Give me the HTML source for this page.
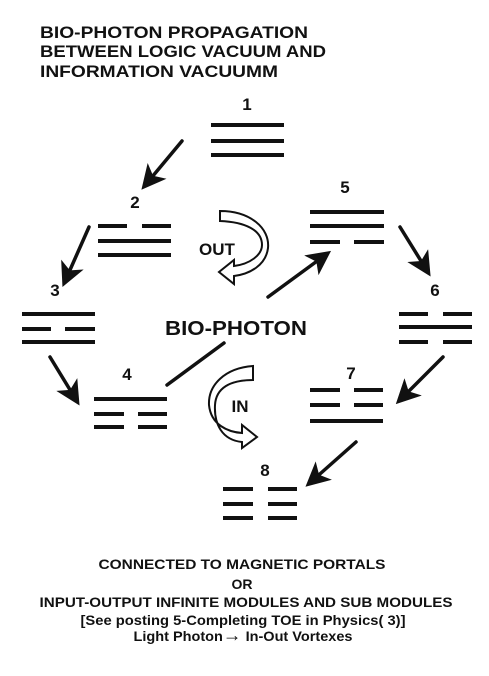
<!DOCTYPE html>
<html><head><meta charset="utf-8"><style>
html,body{margin:0;padding:0;background:#fff;}
svg{display:block;}
text{font-family:"Liberation Sans",Arial,sans-serif;font-weight:bold;fill:#111;}
</style></head><body>
<svg width="489" height="676" viewBox="0 0 489 676" xmlns="http://www.w3.org/2000/svg">
<defs>
<marker id="ah" markerWidth="7" markerHeight="7" refX="4.5" refY="3.5" orient="auto" markerUnits="strokeWidth">
<path d="M0,0 L7,3.5 L0,7 L1.8,3.5 Z" fill="#111"/>
</marker>
</defs>
<!-- Title -->
<text x="40" y="38" font-size="17" textLength="268" lengthAdjust="spacingAndGlyphs">BIO-PHOTON PROPAGATION</text>
<text x="40" y="57" font-size="17" textLength="286" lengthAdjust="spacingAndGlyphs">BETWEEN LOGIC VACUUM AND</text>
<text x="40" y="77" font-size="17" textLength="238" lengthAdjust="spacingAndGlyphs">INFORMATION VACUUMM</text>

<g fill="#111">
<text x="247" y="110" font-size="17" text-anchor="middle">1</text>
<text x="135" y="208" font-size="17" text-anchor="middle">2</text>
<text x="55" y="296" font-size="17" text-anchor="middle">3</text>
<text x="127" y="380" font-size="17" text-anchor="middle">4</text>
<text x="345" y="193" font-size="17" text-anchor="middle">5</text>
<text x="435" y="296" font-size="17" text-anchor="middle">6</text>
<text x="351" y="379" font-size="17" text-anchor="middle">7</text>
<text x="265" y="476" font-size="17" text-anchor="middle">8</text>
</g>

<g fill="#111">
<rect x="211" y="123" width="73" height="4"/><rect x="211" y="139" width="73" height="4"/><rect x="211" y="153" width="73" height="4"/>
<rect x="98" y="224" width="29" height="4"/><rect x="142" y="224" width="29" height="4"/>
<rect x="98" y="239" width="73" height="4"/><rect x="98" y="253" width="73" height="4"/>
<rect x="22" y="312" width="73" height="4"/>
<rect x="22" y="327" width="29" height="4"/><rect x="65" y="327" width="30" height="4"/>
<rect x="22" y="340" width="73" height="4"/>
<rect x="94" y="397" width="73" height="4"/>
<rect x="94" y="412" width="30" height="4"/><rect x="138" y="412" width="29" height="4"/>
<rect x="94" y="425" width="30" height="4"/><rect x="138" y="425" width="29" height="4"/>
<rect x="310" y="210" width="74" height="4"/><rect x="310" y="224" width="74" height="4"/>
<rect x="310" y="240" width="30" height="4"/><rect x="354" y="240" width="30" height="4"/>
<rect x="399" y="312" width="29" height="4"/><rect x="443" y="312" width="29" height="4"/>
<rect x="399" y="325" width="73" height="4"/>
<rect x="399" y="340" width="29" height="4"/><rect x="443" y="340" width="29" height="4"/>
<rect x="310" y="388" width="30" height="4"/><rect x="354" y="388" width="29" height="4"/>
<rect x="310" y="403" width="30" height="4"/><rect x="354" y="403" width="29" height="4"/>
<rect x="310" y="419" width="73" height="4"/>
<rect x="223" y="487" width="30" height="4"/><rect x="268" y="487" width="29" height="4"/>
<rect x="223" y="502" width="30" height="4"/><rect x="268" y="502" width="29" height="4"/>
<rect x="223" y="516" width="30" height="4"/><rect x="268" y="516" width="29" height="4"/>
</g>

<g stroke="#111" stroke-width="3.5" fill="none" stroke-linecap="round">
<line x1="182" y1="141" x2="147" y2="183" marker-end="url(#ah)"/>
<line x1="89" y1="227" x2="66" y2="279" marker-end="url(#ah)"/>
<line x1="50" y1="357" x2="75" y2="398" marker-end="url(#ah)"/>
<line x1="268" y1="297" x2="324" y2="256" marker-end="url(#ah)"/>
<line x1="400" y1="227" x2="426" y2="269" marker-end="url(#ah)"/>
<line x1="443" y1="357" x2="402" y2="398" marker-end="url(#ah)"/>
<line x1="356" y1="442" x2="312" y2="481" marker-end="url(#ah)"/>
<line x1="224" y1="343" x2="167" y2="385"/>
</g>

<text x="236" y="335" font-size="20" text-anchor="middle" textLength="142" lengthAdjust="spacingAndGlyphs">BIO-PHOTON</text>
<text x="217" y="255" font-size="17" text-anchor="middle">OUT</text>
<text x="240" y="412" font-size="17" text-anchor="middle">IN</text>

<path d="M220,211 C250,211 270,228 268,248 C266,265 250,274 234,276 L234,284 L219,272 L234,260 L234,266 C250,264 262,255 262,245 C262,230 245,222 220,221 Z" fill="#fff" stroke="#111" stroke-width="2"/>
<path d="M253,366 C225,368 208,385 209,405 C211,425 228,432 242,433 L242,425 L257,437 L242,448 L242,442 C222,440 214,424 215,405 C216,388 230,380 253,380 Z" fill="#fff" stroke="#111" stroke-width="2"/>

<g font-size="14" text-anchor="middle">
<text x="242" y="569" textLength="287" lengthAdjust="spacingAndGlyphs">CONNECTED TO MAGNETIC PORTALS</text>
<text x="242" y="589">OR</text>
<text x="246" y="607" textLength="413" lengthAdjust="spacingAndGlyphs">INPUT-OUTPUT INFINITE MODULES AND SUB MODULES</text>
<text x="243" y="625" textLength="325" lengthAdjust="spacingAndGlyphs">[See posting 5-Completing TOE in Physics( 3)]</text>
<text x="243" y="641" textLength="219" lengthAdjust="spacingAndGlyphs">Light Photon<tspan font-size="18">→</tspan> In-Out Vortexes</text>
</g>
</svg>
</body></html>
